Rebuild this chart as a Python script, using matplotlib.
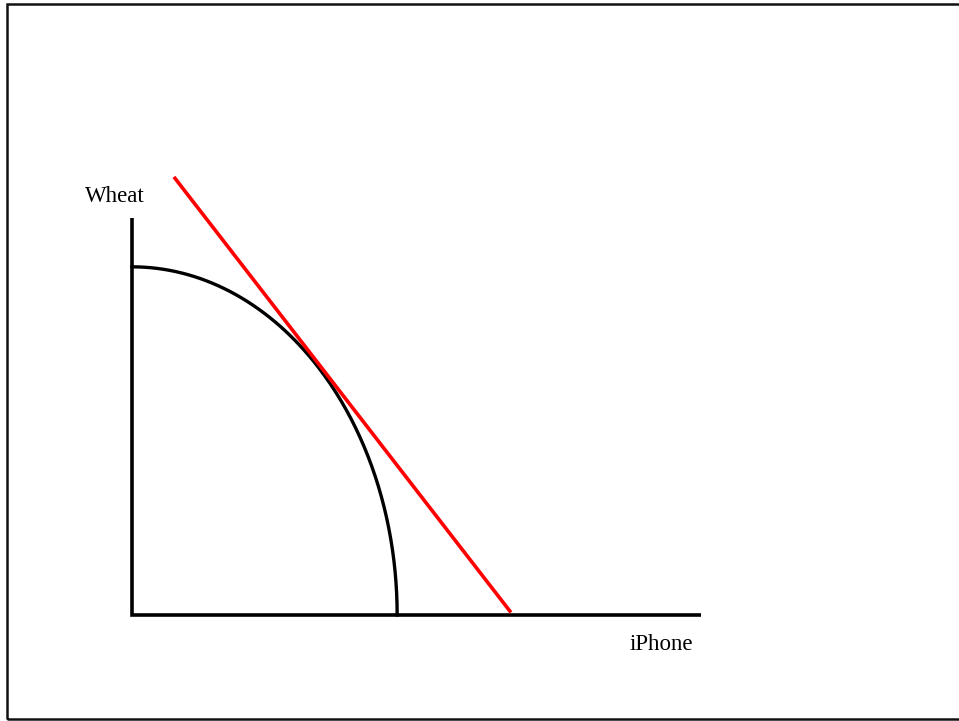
import numpy as np
import matplotlib.pyplot as plt
from matplotlib.patches import Rectangle

plt.rcParams['font.family'] = ['Liberation Serif', 'DejaVu Serif']

# axis extents (data units)
x_axis_end = 10.0
y_axis_end = 10.0
# production possibility frontier intercepts
ppf_x_intercept = 4.66
ppf_y_intercept = 8.77
# red price line end points
price_x = [0.756, 6.64]
price_y = [11.0, 0.1]

fig = plt.figure(figsize=(9.59, 7.21), dpi=100)
# frame: right edge runs off the picture
fig.patches.append(Rectangle((7/959, 2/721), 960/959, 715/721, transform=fig.transFigure,
                             fill=False, edgecolor='#111111', linewidth=1.8))

ax = fig.add_axes([132/959, 106/721, 569/959, 397/721])
ax.set_xlim(0, x_axis_end)
ax.set_ylim(0, y_axis_end)
ax.axis('off')

# axes drawn as one L so the corner is joined
ax.plot([0, 0, x_axis_end], [y_axis_end, 0, 0], color='black', lw=2.6, clip_on=False,
        solid_capstyle='butt', solid_joinstyle='miter')

# PPF quarter ellipse
t = np.linspace(0, np.pi/2, 200)
ax.plot(ppf_x_intercept*np.cos(t), ppf_y_intercept*np.sin(t), color='black', lw=2.4, clip_on=False)

# price line
ax.plot(price_x, price_y, color='#ff0000', lw=2.6, clip_on=False)

ax.text(-0.826, 10.40, 'Wheat', fontsize=16.5, ha='left', va='baseline', clip_on=False)
ax.text(8.75, -0.88, 'iPhone', fontsize=16.5, ha='left', va='baseline', clip_on=False)

fig.savefig('out.png', dpi=100)
